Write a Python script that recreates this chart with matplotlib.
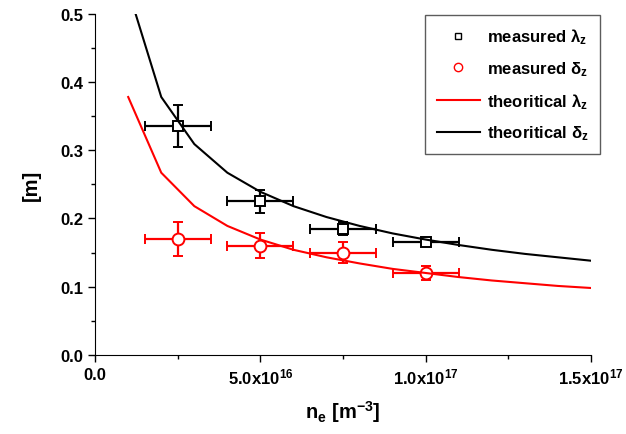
import matplotlib
matplotlib.use('Agg')
import matplotlib.pyplot as plt
from matplotlib.ticker import MultipleLocator, FixedLocator, FormatStrFormatter

plt.rcParams['font.family'] = ['Liberation Sans', 'DejaVu Sans']
plt.rcParams['font.weight'] = 'bold'
plt.rcParams['mathtext.fontset'] = 'custom'
plt.rcParams['mathtext.rm'] = 'Liberation Sans:bold'
plt.rcParams['mathtext.it'] = 'Liberation Sans:bold'
plt.rcParams['mathtext.bf'] = 'Liberation Sans:bold'
plt.rcParams['mathtext.default'] = 'rm'

# theoretical curves
theory_n = [1e16, 2e16, 3e16, 4e16, 5e16, 6e16, 7e16, 8e16,
            9e16, 1e17, 1.1e17, 1.2e17, 1.3e17, 1.4e17, 1.5e17]
theory_delta = [0.535, 0.378, 0.309, 0.267, 0.239, 0.218, 0.202, 0.189,
                0.178, 0.169, 0.161, 0.154, 0.148, 0.143, 0.138]
theory_lambda = [0.378, 0.267, 0.218, 0.189, 0.169, 0.154, 0.143, 0.134,
                 0.126, 0.120, 0.114, 0.109, 0.105, 0.101, 0.098]

# measurements
meas_n = [2.5e16, 5e16, 7.5e16, 1e17]
meas_n_err = [1e16, 1e16, 1e16, 1e16]
meas_lambda = [0.335, 0.225, 0.185, 0.165]
meas_lambda_err = [0.031, 0.017, 0.010, 0.005]
meas_delta = [0.170, 0.160, 0.150, 0.120]
meas_delta_err = [0.025, 0.018, 0.015, 0.010]

xticks = [0, 5e16, 1e17, 1.5e17]
xtick_labels = ['0.0', r'5.0x10$^{16}$', r'1.0x10$^{17}$', r'1.5x10$^{17}$']

fig = plt.figure(figsize=(6.26, 4.35), dpi=100)
ax = fig.add_axes([0.152, 0.182, 0.792, 0.784])

ax.errorbar(meas_n, meas_lambda, xerr=meas_n_err, yerr=meas_lambda_err,
            fmt='s', color='black', mfc='white', mec='black', ms=7.5, mew=1.4,
            elinewidth=1.6, capsize=3.5, capthick=1.6, zorder=2)
ax.errorbar(meas_n, meas_delta, xerr=meas_n_err, yerr=meas_delta_err,
            fmt='o', color='red', mfc='white', mec='red', ms=8.5, mew=1.4,
            elinewidth=1.6, capsize=3.5, capthick=1.6, zorder=2)
ax.plot(theory_n, theory_lambda, color='red', lw=1.5, zorder=3)
ax.plot(theory_n, theory_delta, color='black', lw=1.5, zorder=3)

h1, = ax.plot([], [], 's', mfc='white', mec='black', ms=5, mew=1)
h2, = ax.plot([], [], 'o', mfc='white', mec='red', ms=6, mew=1)
h3, = ax.plot([], [], color='red', lw=1.5)
h4, = ax.plot([], [], color='black', lw=1.5)
leg = ax.legend([h1, h2, h3, h4],
                [r'measured $\lambda_z$', r'measured $\delta_z$',
                 r'theoritical $\lambda_z$', r'theoritical $\delta_z$'],
                loc='upper right', bbox_to_anchor=(1.018, 0.997),
                fontsize=12, frameon=True, fancybox=False, handlelength=2.6,
                labelspacing=0.78, borderpad=0.7, handletextpad=0.4,
                borderaxespad=0)
leg.get_frame().set_edgecolor('#333333')
leg.get_frame().set_linewidth(1.0)

ax.set_xlim(0, 1.5e17)
ax.set_ylim(0, 0.5)
ax.xaxis.set_major_locator(FixedLocator(xticks))
ax.set_xticklabels(xtick_labels)
ax.xaxis.set_minor_locator(MultipleLocator(2.5e16))
ax.yaxis.set_major_locator(MultipleLocator(0.1))
ax.yaxis.set_minor_locator(MultipleLocator(0.05))
ax.yaxis.set_major_formatter(FormatStrFormatter('%.1f'))

ax.spines['top'].set_visible(False)
ax.spines['right'].set_visible(False)
ax.tick_params(which='major', length=5, width=1, labelsize=12, direction='out')
ax.tick_params(which='minor', length=3, width=1, direction='out')

ax.set_xlabel(r'n$_e$ [m$^{-3}$]', fontsize=14.5, fontweight='bold', labelpad=8)
ax.set_ylabel('[m]', fontsize=14.5, fontweight='bold', labelpad=14)

fig.savefig('out.png', dpi=100)
